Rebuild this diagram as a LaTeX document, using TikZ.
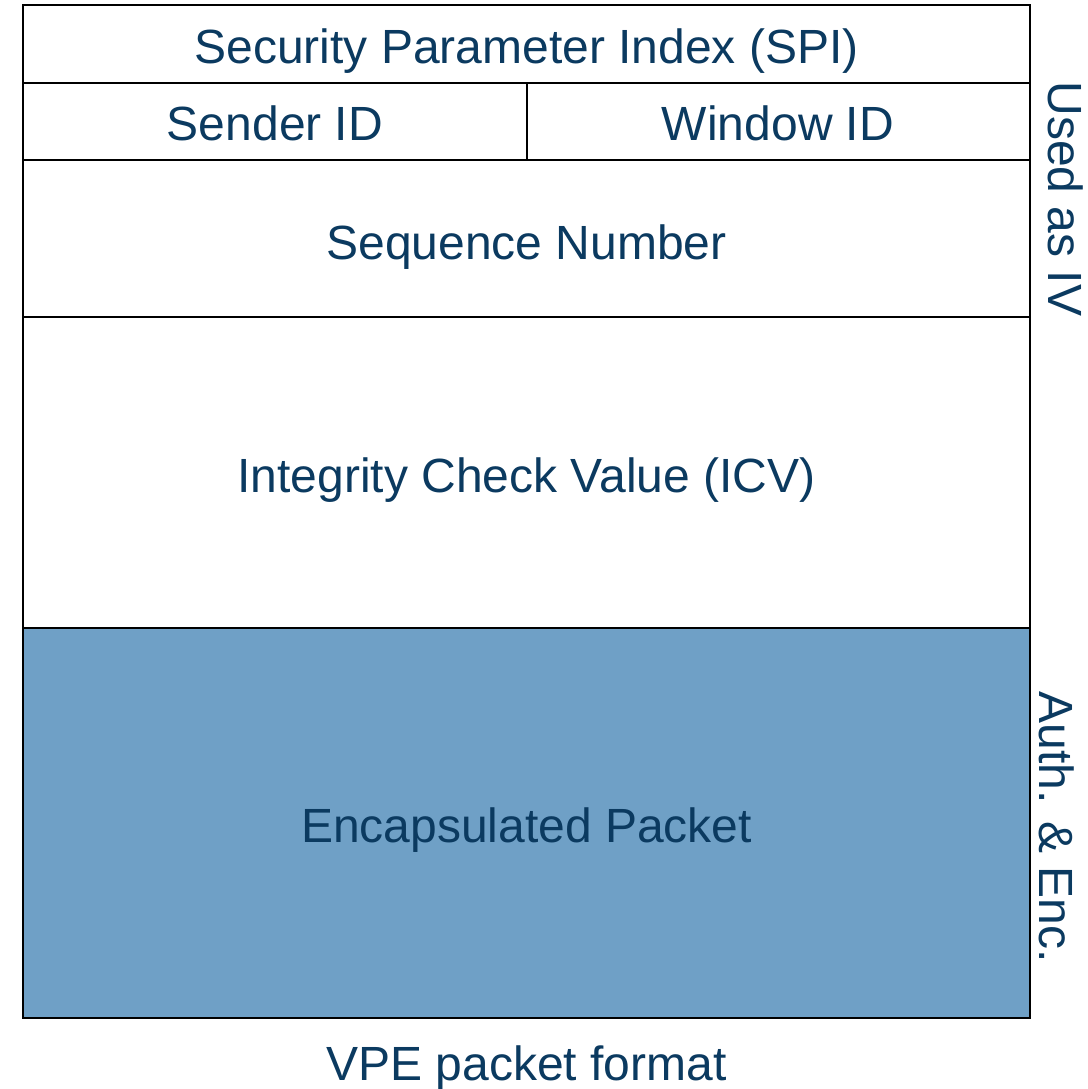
\documentclass[tikz,border=0pt]{standalone}
\usepackage{fontspec}
\setmainfont{Liberation Sans}
\definecolor{txtblue}{HTML}{0B3A60}
\definecolor{encfill}{HTML}{6FA0C6}
\begin{document}
\begin{tikzpicture}[x=1pt,y=-1pt,
  field/.style={draw=black,line width=2pt},
  lbl/.style={text=txtblue,font=\fontsize{48}{57}\selectfont,inner sep=0pt,anchor=base},
  side/.style={lbl,rotate=-90}]
\useasboundingbox (0,0) rectangle (1087,1089);
\fill[white] (0,0) rectangle (1087,1089);
\fill[encfill] (23,628) rectangle (1030,1018);
\draw[field] (23,5) rectangle (1030,1018);
\draw[field] (23,83) -- (1030,83);
\draw[field] (23,160) -- (1030,160);
\draw[field] (23,317) -- (1030,317);
\draw[field] (23,628) -- (1030,628);
\draw[field] (526.5,83) -- (526.5,160);
\node[lbl] (spi) at (526.5,64) {Security Parameter Index (SPI)};
\node[lbl] (sender) at (275,141) {Sender ID};
\node[lbl] (window) at (778,141) {Window ID};
\node[lbl] (seq) at (526.5,259) {Sequence Number};
\node[lbl] (icv) at (526.5,492) {Integrity Check Value (ICV)};
\node[lbl] (enc) at (526.5,842) {Encapsulated Packet};
\node[side] (iv) at (1048,199) {Used as IV};
\node[side] (auth) at (1039,827) {Auth. \& Enc.};
\node[lbl] (cap) at (526.5,1080) {VPE packet format};
\end{tikzpicture}
\end{document}
